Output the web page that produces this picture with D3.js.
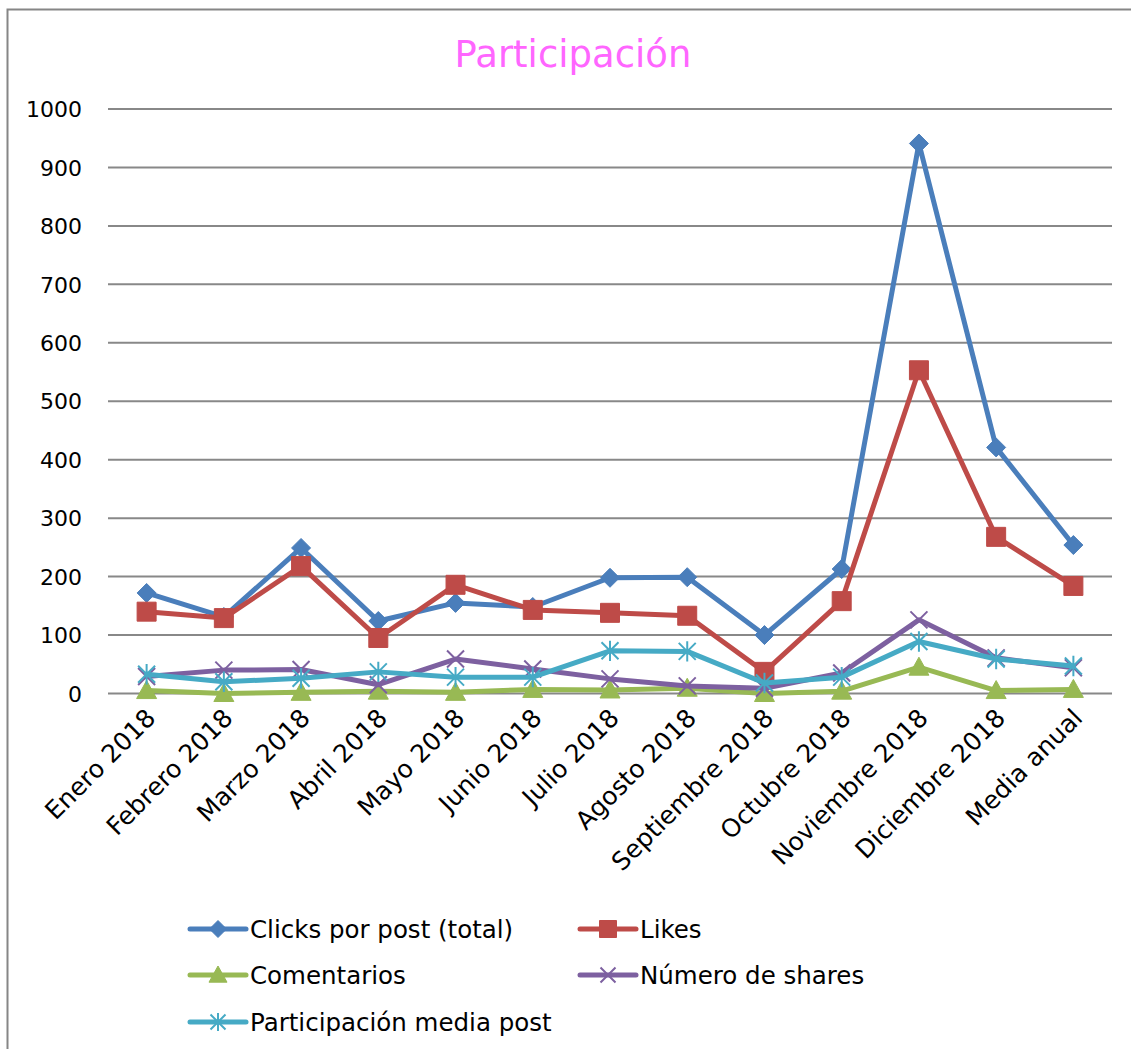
<!DOCTYPE html>
<html>
<head>
<meta charset="utf-8">
<script src="https://cdn.jsdelivr.net/npm/d3@7"></script>
<style>
  html, body { margin: 0; padding: 0; background: #fff; }
  svg { display: block; }
  text { font-family: "Century Gothic", "URW Gothic", "DejaVu Sans", sans-serif; fill: #000; }
</style>
</head>
<body>
<svg id="chart" width="1131" height="1049"></svg>
<script>
// Categories (months + annual mean)
const categories = ["Enero 2018", "Febrero 2018", "Marzo 2018", "Abril 2018", "Mayo 2018",
  "Junio 2018", "Julio 2018", "Agosto 2018", "Septiembre 2018", "Octubre 2018",
  "Noviembre 2018", "Diciembre 2018", "Media anual"];

const clicks        = [172, 131, 249, 124, 155, 148, 198, 199, 100, 213, 941, 421, 254];
const likes         = [140, 129, 218,  95, 186, 143, 138, 133,  37, 158, 553, 268, 184];
const comentarios   = [  5,   0,   2,   4,   2,   7,   6,   9,   0,   4,  45,   5,   7];
const shares        = [ 29,  40,  41,  15,  59,  42,  25,  13,   9,  35, 126,  61,  44];
const participacion = [ 33,  20,  26,  37,  28,  28,  73,  72,  18,  28,  89,  59,  47];

const yTicks = [0, 100, 200, 300, 400, 500, 600, 700, 800, 900, 1000];

const seriesNames  = ["Clicks por post (total)", "Likes", "Comentarios", "Número de shares", "Participación media post"];
const seriesValues = [clicks, likes, comentarios, shares, participacion];
const seriesColors = ["#4A7EBB", "#BE4B48", "#98B954", "#7D60A0", "#46AAC5"];
const seriesMarkers = ["diamond", "square", "triangle", "x", "star"];

const svg = d3.select("#chart");
const W = 1131, H = 1049;

// outer chart frame
svg.append("rect")
  .attr("x", 7.5).attr("y", 9.5)
  .attr("width", W + 20).attr("height", H + 20)
  .attr("fill", "#fff").attr("stroke", "#868686").attr("stroke-width", 2);

const plot = { left: 108, right: 1112, top: 109, bottom: 693.5 };

const x = d3.scalePoint()
  .domain(categories)
  .range([plot.left, plot.right])
  .padding(0.5);

const y = d3.scaleLinear()
  .domain([0, 1000])
  .range([plot.bottom, plot.top]);

// title
svg.append("text")
  .attr("x", 573).attr("y", 67)
  .attr("text-anchor", "middle")
  .style("font-size", "37px")
  .style("fill", "#FF66FF")
  .text("Participación");

// gridlines
svg.append("g")
  .selectAll("line")
  .data(yTicks)
  .join("line")
  .attr("x1", plot.left).attr("x2", plot.right)
  .attr("y1", d => y(d)).attr("y2", d => y(d))
  .attr("stroke", "#888").attr("stroke-width", 2);

// y axis labels
const yAxis = d3.axisLeft(y).tickValues(yTicks).tickFormat(d3.format("d")).tickSize(0).tickPadding(26);
const gy = svg.append("g").attr("transform", `translate(${plot.left},0)`).call(yAxis);
gy.select(".domain").remove();
gy.selectAll("text")
  .style("font-size", "22px")
  .style("font-family", null)
  .attr("fill", "#000")
  .attr("dy", "0.35em");

// x axis labels (rotated)
const xAxis = d3.axisBottom(x).tickSize(0).tickPadding(0);
const gx = svg.append("g").attr("transform", `translate(0,${plot.bottom})`).call(xAxis);
gx.select(".domain").remove();
gx.selectAll("text")
  .style("font-size", "25px")
  .style("font-family", null)
  .attr("fill", "#000")
  .attr("text-anchor", "end")
  .attr("dy", null)
  .attr("transform", "translate(10,26) rotate(-45)");

// marker shapes
function markerPath(type, s) {
  const h = s / 2;
  switch (type) {
    case "diamond": return `M0,${-h}L${h},0L0,${h}L${-h},0Z`;
    case "square": return `M${-h},${-h}H${h}V${h}H${-h}Z`;
    case "triangle": return `M0,${-h}L${h},${h * 0.8}L${-h},${h * 0.8}Z`;
    case "x": return `M${-h},${-h}L${h},${h}M${h},${-h}L${-h},${h}`;
    case "star": return `M${-h},${-h}L${h},${h}M${h},${-h}L${-h},${h}M0,${-h * 1.2}V${h * 1.2}`;
  }
}
function drawMarker(g, type, color, cx, cy, size) {
  const filled = type === "diamond" || type === "square" || type === "triangle";
  g.append("path")
    .attr("d", markerPath(type, size))
    .attr("transform", `translate(${cx},${cy})`)
    .attr("fill", filled ? color : "none")
    .attr("stroke", color)
    .attr("stroke-width", filled ? 1 : 2);
}

const line = d3.line()
  .x((d, i) => x(categories[i]))
  .y(d => y(d));

const sizes = { diamond: 19, square: 19, triangle: 20, x: 17, star: 17 };

seriesValues.forEach((vals, si) => {
  const g = svg.append("g");
  g.append("path")
    .datum(vals)
    .attr("d", line)
    .attr("fill", "none")
    .attr("stroke", seriesColors[si])
    .attr("stroke-width", 5)
    .attr("stroke-linejoin", "round")
    .attr("stroke-linecap", "round");
  vals.forEach((v, i) => {
    drawMarker(g, seriesMarkers[si], seriesColors[si], x(categories[i]), y(v), sizes[seriesMarkers[si]]);
  });
});

// legend
const legendPos = [
  { lx: 190, ly: 929 }, { lx: 580, ly: 929 },
  { lx: 190, ly: 975 }, { lx: 580, ly: 975 },
  { lx: 190, ly: 1022 }
];
seriesNames.forEach((name, si) => {
  const p = legendPos[si];
  const g = svg.append("g");
  g.append("line")
    .attr("x1", p.lx).attr("x2", p.lx + 56)
    .attr("y1", p.ly).attr("y2", p.ly)
    .attr("stroke", seriesColors[si]).attr("stroke-width", 5)
    .attr("stroke-linecap", "round");
  drawMarker(g, seriesMarkers[si], seriesColors[si], p.lx + 28, p.ly, sizes[seriesMarkers[si]] - 2);
  g.append("text")
    .attr("x", p.lx + 60).attr("y", p.ly)
    .attr("dy", "0.35em")
    .style("font-size", "24.5px")
    .text(name);
});
</script>
</body>
</html>
